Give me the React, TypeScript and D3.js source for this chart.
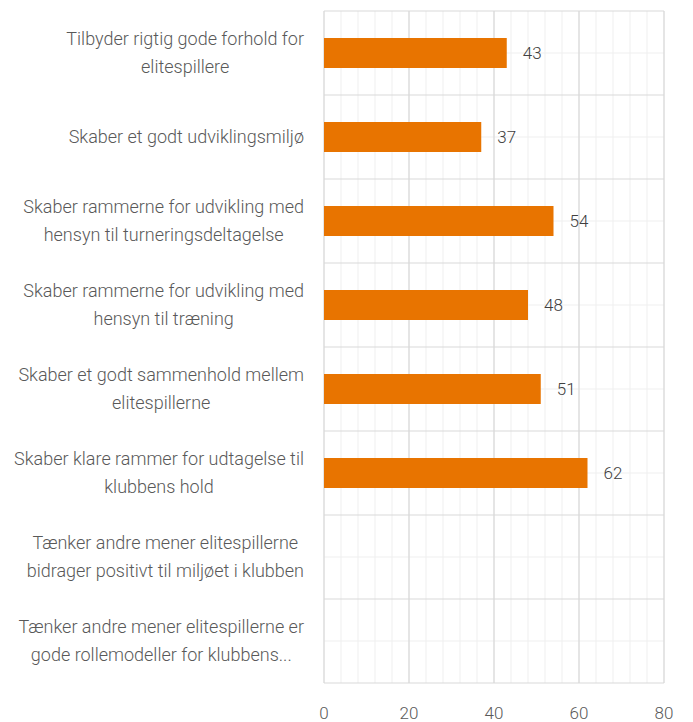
import React, { useMemo } from "react";
import * as d3 from "d3";

const categories: string[][] = [
  ["Tilbyder rigtig gode forhold for", "elitespillere"],
  ["Skaber et godt udviklingsmiljø"],
  ["Skaber rammerne for udvikling med", "hensyn til turneringsdeltagelse"],
  ["Skaber rammerne for udvikling med", "hensyn til træning"],
  ["Skaber et godt sammenhold mellem", "elitespillerne"],
  ["Skaber klare rammer for udtagelse til", "klubbens hold"],
  ["Tænker andre mener elitespillerne", "bidrager positivt til miljøet i klubben"],
  ["Tænker andre mener elitespillerne er", "gode rollemodeller for klubbens..."],
];
const values: (number | null)[] = [43, 37, 54, 48, 51, 62, null, null];
const xTicks: number[] = [0, 20, 40, 60, 80];

const W = 693;
const H = 722;
const FONT = "Roboto";
const WEIGHT = 300;
const LABEL_SIZE = 18;

export default function App() {
  const x = d3.scaleLinear().domain([0, 80]).range([324, 664]);
  const ids = categories.map((_, i) => String(i));
  const y = d3.scaleBand().domain(ids).range([11, 683]).padding(0);
  const bw = y.bandwidth();
  const barH = bw * (30 / 84);
  const minor = d3.range(0, 81, 4);

  const measure = useMemo(() => {
    const c = document.createElement("canvas").getContext("2d")!;
    c.font = `${WEIGHT} ${LABEL_SIZE}px ${FONT}`;
    return (s: string) => c.measureText(s).width;
  }, []);

  return (
    <svg width={W} height={H} style={{ position: "absolute", left: 0, top: 0 }} fontFamily={FONT} fontWeight={WEIGHT}>
      <rect x={0} y={0} width={W} height={H} fill="#fff" />
      {minor.map((t) => (
        <line key={"mv" + t} x1={x(t)} x2={x(t)} y1={11} y2={683} stroke="#efefef" strokeWidth={1} />
      ))}
      {ids.map((id) => (
        <line key={"mh" + id} x1={324} x2={664} y1={y(id)! + bw / 2} y2={y(id)! + bw / 2} stroke="#efefef" strokeWidth={1} />
      ))}
      {xTicks.map((t) => (
        <line key={"v" + t} x1={x(t)} x2={x(t)} y1={11} y2={683} stroke="#d9d9d9" strokeWidth={1.2} />
      ))}
      {[...ids.map((id) => y(id)!), 683].map((yy, i) => (
        <line key={"h" + i} x1={324} x2={664} y1={yy} y2={yy} stroke="#d9d9d9" strokeWidth={1.2} />
      ))}
      {values.map((v, i) =>
        v == null ? null : (
          <g key={"b" + i}>
            <rect
              x={x(0)}
              y={y(ids[i])! + bw / 2 - barH / 2}
              width={x(v) - x(0)}
              height={barH}
              fill="#E87400"
            />
            <text
              x={x(v) + 16}
              y={y(ids[i])! + bw / 2}
              dy="0.35em"
              fontSize={17}
              fill="#404040"
            >
              {v}
            </text>
          </g>
        )
      )}
      {categories.map((lines, i) => {
        const maxW = Math.max(...lines.map(measure));
        const cx = 304 - maxW / 2;
        const cy = y(ids[i])! + bw / 2;
        const lh = 28;
        return (
          <text key={"c" + i} textAnchor="middle" fontSize={LABEL_SIZE} fill="#595959">
            {lines.map((l, j) => (
              <tspan key={j} x={cx} y={cy + (j - (lines.length - 1) / 2) * lh} dy="0.35em">
                {l}
              </tspan>
            ))}
          </text>
        );
      })}
      {xTicks.map((t) => (
        <text key={"t" + t} x={x(t)} y={713} dy="0.35em" textAnchor="middle" fontSize={17} fill="#595959">
          {t}
        </text>
      ))}
    </svg>
  );
}
